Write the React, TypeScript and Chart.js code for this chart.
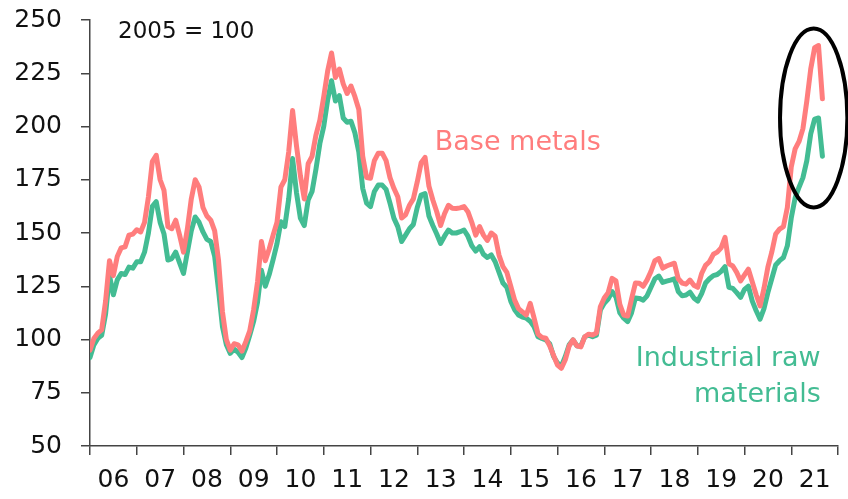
import React, { useEffect, useRef } from "react";
import { Chart, registerables } from "chart.js";

Chart.register(...registerables);

// Monthly index values, Jan 2006 .. Sep 2021 (2005 = 100)
const START_YEAR = 2006;

const baseMetals = [
  95, 100.5, 103, 104.5, 118, 137, 130, 139, 143, 143.5,
  149, 149.5, 151.5, 150.5, 155, 167, 183.5, 186.5, 175, 170,
  153, 152, 156, 149, 141, 152, 166, 175, 171.5, 162,
  158, 156, 151, 137, 113, 100, 95, 98, 97.5, 94.5,
  99, 104, 114, 127, 146, 137, 142.5, 149, 155, 171.5,
  175, 188, 207.5, 191, 177, 166, 182.5, 186, 196, 203,
  214, 226, 234.5, 223, 227, 220, 215.5, 219, 214, 208,
  186, 176, 175.7, 184, 187.5, 187.5, 184, 176, 171, 167,
  157, 158.5, 163, 166, 174, 183, 185.5, 172, 165.5, 160,
  153.5, 159, 163, 161.6, 161.5, 161.8, 162.4, 160, 155, 149,
  153, 149, 146.5, 150, 148.5, 139.5, 134.2, 131.5, 125, 118.5,
  114.5, 113, 111.5, 117, 110, 102.5, 101, 100.6, 97, 92.5,
  88, 86.5, 90.5, 97, 99.8, 97, 96.5, 101.3, 102.5, 102.1,
  103, 115.4, 119.5, 122, 128.7, 127.5, 116.5, 111.5, 111, 119,
  126.5, 126.4, 125, 128, 132, 137, 138, 133.5, 134.5, 135.2,
  135.8, 128.5, 126.5, 126, 127.9, 125.5, 124.5, 131, 134.8, 136.5,
  140, 141, 143, 148, 135.5, 134.5, 131.5, 127.5, 130.3, 133,
  127, 121, 115.8, 124, 134, 141, 149.5, 151.8, 153, 162,
  181, 189.5, 193, 199, 212, 227, 237, 238, 213,
];

const industrialRaw = [
  91.5, 97.5, 100.5, 102, 112, 130, 121, 128, 131, 130.5,
  134, 133.5, 136.5, 136.5, 141, 150, 162.5, 164.7, 155, 149.5,
  137.3, 138, 141, 136, 131, 141, 151, 157.5, 155, 150.5,
  147, 146, 139, 123, 106, 97.5, 93.5, 95.5, 94, 91.5,
  96, 102, 108.5, 117.5, 132.5, 125, 130.5, 137.5, 145, 155.3,
  153, 166, 185, 169, 157, 153.5, 165.5, 169.5, 180, 192,
  200, 212.5, 221.5, 212, 214.5, 204, 202, 202.5, 197, 188,
  171, 164, 162.4, 169.5, 172.5, 172.5, 170.5, 164, 157, 153,
  146, 149, 152, 154, 162, 167.8, 168.5, 158, 153.5, 149.5,
  145.1, 148.5, 151.4, 150, 150, 150.6, 151.4, 148.5, 144, 141.5,
  143.6, 140, 138.5, 139.7, 136.5, 131.5, 126.5, 124.5, 118, 114,
  111.5, 110.5, 110, 108.5, 106, 101.3, 100.5, 99.8, 98, 92,
  89, 87.5, 92, 97.5, 99.8, 97, 97, 101.3, 102, 101.3,
  102, 113.8, 117, 119, 122.5, 120, 112.5, 110, 108.4, 112.5,
  119.5, 119.3, 118.5, 120.5, 124.5, 128.5, 129.8, 126.8, 127.4, 127.9,
  128.5, 122.5, 120.5, 120.9, 122.2, 119.5, 118, 121.5, 126.5, 128.5,
  130, 130.5, 132, 134.2, 124.5, 124, 122, 119.8, 123.5, 125,
  118, 113.5, 109.5, 114.5, 122, 128.5, 135, 137, 138.5, 144,
  157, 166.5, 171.5, 176, 184, 196.5, 203.5, 204, 186,
];

const X_MIN = 2006;
const X_MAX = 2022;
const Y_MIN = 50;
const Y_MAX = 250;
const Y_STEP = 25;

const PINK = "#FF7D7D";
const GREEN = "#43BC93";
const FONT = "DejaVu Sans";

// Annotation anchors in data units
const NOTE_INDEX = { text: "2005 = 100", x: 2006.6, y: 241.4 };
const NOTE_BASE = { text: "Base metals", x: 2015.15, y: 189 };
const NOTE_IND = { lines: ["Industrial raw", "materials"], x: 2021.63, y: [87.6, 70.7] };
const ELLIPSE = { x: 2021.48, y: 204, rx: 0.72, ry: 42 };

function toPoints(values: number[]) {
  return values.map((v, i) => ({ x: START_YEAR + i / 12, y: v }));
}

const notesPlugin = {
  id: "notes",
  afterDatasetsDraw(chart: any) {
    const { ctx } = chart;
    const xs = chart.scales.x;
    const ys = chart.scales.y;
    ctx.save();
    ctx.textBaseline = "alphabetic";

    ctx.font = `23px "${FONT}"`;
    ctx.fillStyle = "#111";
    ctx.textAlign = "left";
    ctx.fillText(NOTE_INDEX.text, xs.getPixelForValue(NOTE_INDEX.x), ys.getPixelForValue(NOTE_INDEX.y));

    ctx.font = `27px "${FONT}"`;
    ctx.fillStyle = PINK;
    ctx.textAlign = "center";
    ctx.fillText(NOTE_BASE.text, xs.getPixelForValue(NOTE_BASE.x), ys.getPixelForValue(NOTE_BASE.y));

    ctx.fillStyle = GREEN;
    ctx.textAlign = "right";
    NOTE_IND.lines.forEach((t, i) => {
      ctx.fillText(t, xs.getPixelForValue(NOTE_IND.x), ys.getPixelForValue(NOTE_IND.y[i]));
    });

    const cx = xs.getPixelForValue(ELLIPSE.x);
    const cy = ys.getPixelForValue(ELLIPSE.y);
    const rx = Math.abs(xs.getPixelForValue(ELLIPSE.x + ELLIPSE.rx) - cx);
    const ry = Math.abs(ys.getPixelForValue(ELLIPSE.y + ELLIPSE.ry) - cy);
    ctx.beginPath();
    ctx.ellipse(cx, cy, rx, ry, 0, 0, Math.PI * 2);
    ctx.lineWidth = 4;
    ctx.strokeStyle = "#000";
    ctx.stroke();
    ctx.restore();
  },
};

export default function App() {
  const canvasRef = useRef<HTMLCanvasElement | null>(null);

  useEffect(() => {
    if (!canvasRef.current) return;
    Chart.defaults.font.family = FONT;
    const chart = new Chart(canvasRef.current, {
      type: "line",
      data: {
        datasets: [
          {
            label: "Base metals",
            data: toPoints(baseMetals),
            borderColor: PINK,
            borderWidth: 5,
            pointRadius: 0,
            tension: 0,
            borderJoinStyle: "round",
            borderCapStyle: "round",
            fill: false,
          },
          {
            label: "Industrial raw materials",
            data: toPoints(industrialRaw),
            borderColor: GREEN,
            borderWidth: 5,
            pointRadius: 0,
            tension: 0,
            borderJoinStyle: "round",
            borderCapStyle: "round",
            fill: false,
          },
        ],
      },
      options: {
        responsive: false,
        animation: false,
        devicePixelRatio: 1,
        layout: { padding: { top: 20, right: 10, left: 0, bottom: 0 } },
        plugins: { legend: { display: false }, tooltip: { enabled: false } },
        scales: {
          x: {
            type: "linear",
            min: X_MIN,
            max: X_MAX,
            afterFit: (s: any) => {
              s.height = 53;
              s.paddingLeft = 0;
              s.paddingRight = 0;
            },
            ticks: {
              stepSize: 1,
              autoSkip: false,
              maxRotation: 0,
              labelOffset: 23.4,
              padding: 10,
              color: "#111",
              font: { size: 25, family: FONT },
              callback: (v: any) => (Number(v) < X_MAX ? String(Number(v) % 100).padStart(2, "0") : ""),
            },
            grid: { drawOnChartArea: false, drawTicks: true, tickLength: 9, color: "#444", lineWidth: 1.5 },
            border: { display: true, color: "#444", width: 1.5 },
          },
          y: {
            min: Y_MIN,
            max: Y_MAX,
            afterFit: (s: any) => {
              s.width = 90;
              s.paddingTop = 0;
              s.paddingBottom = 0;
            },
            ticks: {
              stepSize: Y_STEP,
              padding: 19,
              color: "#111",
              font: { size: 25, family: FONT },
            },
            grid: { drawOnChartArea: false, drawTicks: true, tickLength: 9, color: "#444", lineWidth: 1.5 },
            border: { display: true, color: "#444", width: 1.5 },
          },
        },
      },
      plugins: [notesPlugin],
    });
    return () => chart.destroy();
  }, []);

  return (
    <div style={{ position: "absolute", left: 0, top: 0, width: 848, height: 499, background: "#fff" }}>
      <canvas ref={canvasRef} width={848} height={499} style={{ display: "block" }} />
    </div>
  );
}
